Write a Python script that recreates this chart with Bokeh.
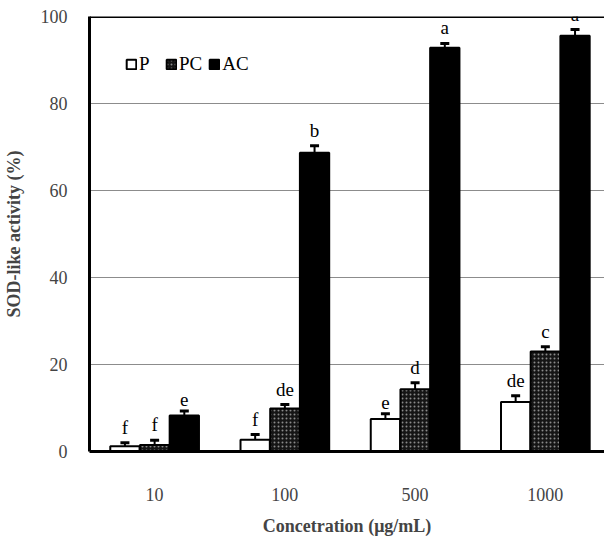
import numpy as np
from bokeh.plotting import figure
from bokeh.models import (ColumnDataSource, Range1d, FixedTicker, Whisker, TeeHead,
                          Legend, LegendItem, Span, LabelSet)
from bokeh.embed import file_html
from bokeh.resources import INLINE

concentrations = ["10", "100", "500", "1000"]
series = ["P", "PC", "AC"]
p_vals = [1.2, 2.7, 7.5, 11.4]
p_err = [0.8, 1.2, 1.2, 1.4]
p_letters = ["f", "f", "e", "de"]
pc_vals = [1.5, 9.9, 14.3, 23.0]
pc_err = [1.1, 0.9, 1.5, 1.1]
pc_letters = ["f", "de", "d", "c"]
ac_vals = [8.3, 68.7, 92.8, 95.6]
ac_err = [1.0, 1.6, 1.0, 1.4]
ac_letters = ["e", "b", "a", "a"]
y_ticks = [0, 20, 40, 60, 80, 100]

SERIF = "Liberation Serif"
idx = np.arange(len(concentrations)) + 0.5
offsets = [-0.228, 0.0, 0.228]
bar_w = 0.225

W, H = 604, 538
p = figure(width=W, height=H, output_backend="svg", toolbar_location=None,
           x_range=Range1d(0, (W - 86) / 131.0), y_range=Range1d(0, 100),
           min_border_left=86, min_border_right=0, min_border_top=16, min_border_bottom=85)
p.outline_line_color = None
p.background_fill_color = "white"
p.border_fill_color = "white"

styles = [
    dict(fill_color="white", line_color="black", hatch_pattern=None),
    dict(fill_color="#151515", line_color="black", hatch_pattern="dot", hatch_color="#8a8a8a", hatch_scale=4, hatch_weight=1),
    dict(fill_color="black", line_color="black", hatch_pattern=None),
]
vals_all = [p_vals, pc_vals, ac_vals]
errs_all = [p_err, pc_err, ac_err]
letters_all = [p_letters, pc_letters, ac_letters]

items = []
for s, vals, errs, lets, off, st in zip(series, vals_all, errs_all, letters_all, offsets, styles):
    v = np.array(vals)
    e = np.array(errs)
    src = ColumnDataSource(dict(x=idx + off, top=v, lo=v - e, hi=v + e, lab=lets))
    kw = dict(fill_color=st["fill_color"], line_color=st["line_color"], line_width=2)
    if st["hatch_pattern"]:
        kw.update(hatch_pattern=st["hatch_pattern"], hatch_color=st["hatch_color"],
                  hatch_scale=st["hatch_scale"], hatch_weight=st["hatch_weight"])
    r = p.vbar(x="x", top="top", width=bar_w, bottom=0, source=src, **kw)
    items.append(LegendItem(label=s, renderers=[r]))
    w = Whisker(source=src, base="x", lower="lo", upper="hi", line_color="black", line_width=2,
                upper_head=TeeHead(size=9, line_width=3, line_color="black"),
                lower_head=TeeHead(size=9, line_width=3, line_color="black"))
    p.add_layout(w)
    labels = LabelSet(x="x", y="hi", text="lab", source=src, text_align="center",
                      text_baseline="bottom", y_offset=5, text_font=SERIF,
                      text_font_size="19px", text_color="black")
    p.add_layout(labels)

legend = Legend(items=items, orientation="horizontal", location=(36, 376),
                padding=0, spacing=6, margin=0, glyph_width=12, glyph_height=12,
                label_standoff=2, label_text_font=SERIF, label_text_font_size="19px",
                label_text_color="black", background_fill_alpha=0, border_line_color=None)
p.add_layout(legend)

p.add_layout(Span(location=100, dimension="width", line_color="black", line_width=3))

# axes
p.xaxis.ticker = FixedTicker(ticks=list(idx))
p.xaxis.major_label_overrides = {float(x): c for x, c in zip(idx, concentrations)}
p.xaxis.major_tick_line_color = None
p.xaxis.minor_tick_line_color = None
p.xaxis.axis_line_width = 3
p.xaxis.major_label_standoff = 30
p.xaxis.major_label_text_font = SERIF
p.xaxis.major_label_text_font_size = "18px"
p.xaxis.axis_label = "Concetration (\u03bcg/mL)"
p.xaxis.axis_label_text_font = SERIF
p.xaxis.axis_label_text_font_size = "18px"
p.xaxis.axis_label_text_font_style = "bold"
p.xaxis.axis_label_standoff = 12

p.yaxis.ticker = FixedTicker(ticks=y_ticks)
p.yaxis.major_tick_line_color = None
p.yaxis.minor_tick_line_color = None
p.yaxis.axis_line_width = 3
p.yaxis.major_label_standoff = 16
p.yaxis.major_label_text_font = SERIF
p.yaxis.major_label_text_font_size = "18px"
p.yaxis.axis_label = "SOD-like activity (%)"
p.yaxis.axis_label_text_font = SERIF
p.yaxis.axis_label_text_font_size = "18px"
p.yaxis.axis_label_text_font_style = "bold"
p.yaxis.axis_label_standoff = 14

p.xgrid.grid_line_color = None
p.ygrid.grid_line_color = "#8c8c8c"
p.ygrid.grid_line_width = 1

open("out.html", "w").write(file_html(p, INLINE))
